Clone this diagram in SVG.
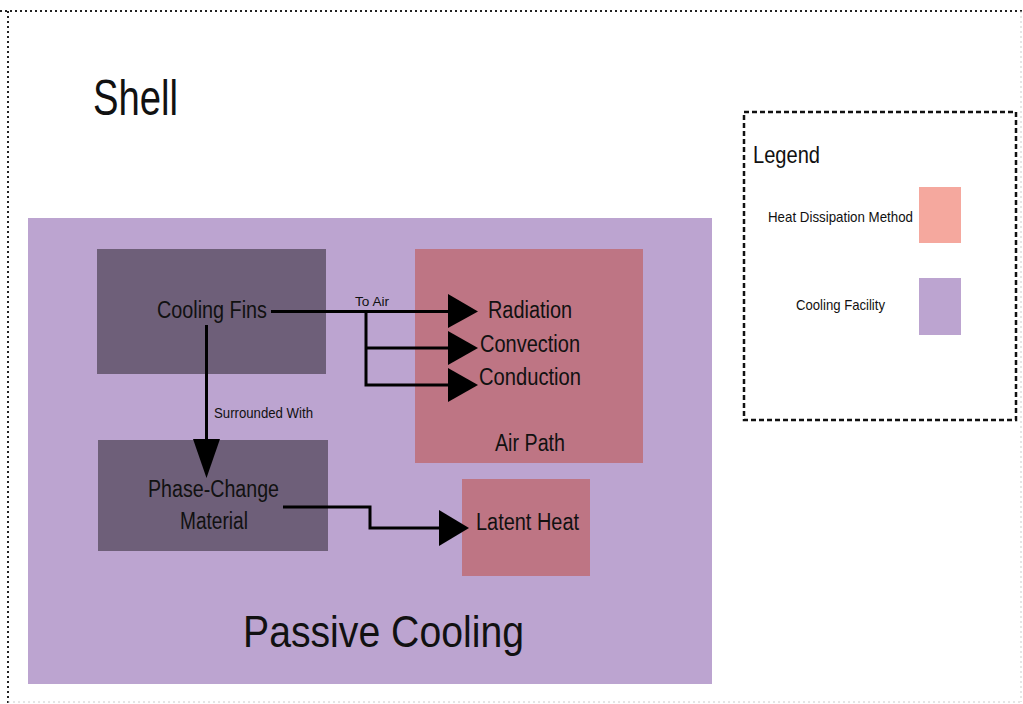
<svg xmlns="http://www.w3.org/2000/svg" width="1023" height="704" viewBox="0 0 1023 704">
<style>
text{font-family:"Liberation Sans Narrow","Liberation Sans",Arial,sans-serif;fill:#111;}
.lbl{font-size:23px;}
.edge{fill:none;stroke:#000;stroke-width:3;}
.head{fill:#000;}
.facility{fill:#BCA4D0;}
.box{fill:#6E5F79;}
.method{fill:#BE7584;}
</style>
<rect width="1023" height="704" fill="#fff"/>
<g id="shell">
<line x1="0" y1="11" x2="1023" y2="11" stroke="#222" stroke-width="2" stroke-dasharray="2,3"/>
<line x1="8" y1="11" x2="8" y2="704" stroke="#222" stroke-width="2" stroke-dasharray="2,3"/>
<line x1="1021" y1="11" x2="1021" y2="702" stroke="#ccc" stroke-width="1" stroke-dasharray="2,3"/>
<line x1="8" y1="702" x2="1021" y2="702" stroke="#ccc" stroke-width="1" stroke-dasharray="2,3"/>
<text x="93" y="115" font-size="50" textLength="85" lengthAdjust="spacingAndGlyphs">Shell</text>
</g>
<g id="passive-cooling">
<rect class="facility" x="28" y="218" width="684" height="466"/>
<text x="243" y="647" font-size="44" textLength="281" lengthAdjust="spacingAndGlyphs">Passive Cooling</text>
</g>
<g id="cooling-fins">
<rect class="box" x="97" y="249" width="229" height="125"/>
<text class="lbl" x="157" y="318" textLength="110" lengthAdjust="spacingAndGlyphs">Cooling Fins</text>
</g>
<g id="phase-change">
<rect class="box" x="98" y="440" width="230" height="111"/>
<text class="lbl" x="148" y="497" textLength="131" lengthAdjust="spacingAndGlyphs">Phase-Change</text>
<text class="lbl" x="180" y="529" textLength="68" lengthAdjust="spacingAndGlyphs">Material</text>
</g>
<g id="air-path">
<rect class="method" x="415" y="249" width="228" height="214"/>
<text class="lbl" x="488" y="318" textLength="84" lengthAdjust="spacingAndGlyphs">Radiation</text>
<text class="lbl" x="480" y="352" textLength="100" lengthAdjust="spacingAndGlyphs">Convection</text>
<text class="lbl" x="479" y="385" textLength="102" lengthAdjust="spacingAndGlyphs">Conduction</text>
<text class="lbl" x="495" y="451" textLength="70" lengthAdjust="spacingAndGlyphs">Air Path</text>
</g>
<g id="latent-heat">
<rect class="method" x="462" y="479" width="128" height="97"/>
<text class="lbl" x="476" y="530" textLength="103" lengthAdjust="spacingAndGlyphs">Latent Heat</text>
</g>
<g id="connectors">
<path class="edge" d="M271 311.5 H452"/>
<path class="edge" d="M366 311.5 V385 H452 M366 348 H452"/>
<polygon class="head" points="448,294 478,311.5 448,328"/>
<polygon class="head" points="448,331 478,348 448,365"/>
<polygon class="head" points="448,368 478,385 448,402"/>
<text x="355" y="306" font-size="13" textLength="34" lengthAdjust="spacingAndGlyphs">To Air</text>
<path class="edge" d="M206.5 325 V445"/>
<polygon class="head" points="193,439 220,439 206.5,478"/>
<text x="214" y="418" font-size="14" textLength="99" lengthAdjust="spacingAndGlyphs">Surrounded With</text>
<path class="edge" d="M283 507 H370 V528 H444"/>
<polygon class="head" points="439,510 469,528 439,546"/>
</g>
<g id="legend">
<rect x="744" y="112" width="272" height="308" fill="none" stroke="#111" stroke-width="2.5" stroke-dasharray="5,3"/>
<text x="753" y="163" font-size="24" textLength="67" lengthAdjust="spacingAndGlyphs">Legend</text>
<text x="768" y="222" font-size="15" textLength="145" lengthAdjust="spacingAndGlyphs">Heat Dissipation Method</text>
<rect x="919" y="187" width="42" height="56" fill="#F5A89E"/>
<text x="796" y="310" font-size="15" textLength="89" lengthAdjust="spacingAndGlyphs">Cooling Facility</text>
<rect x="919" y="278" width="42" height="57" fill="#BCA4D0"/>
</g>
</svg>
